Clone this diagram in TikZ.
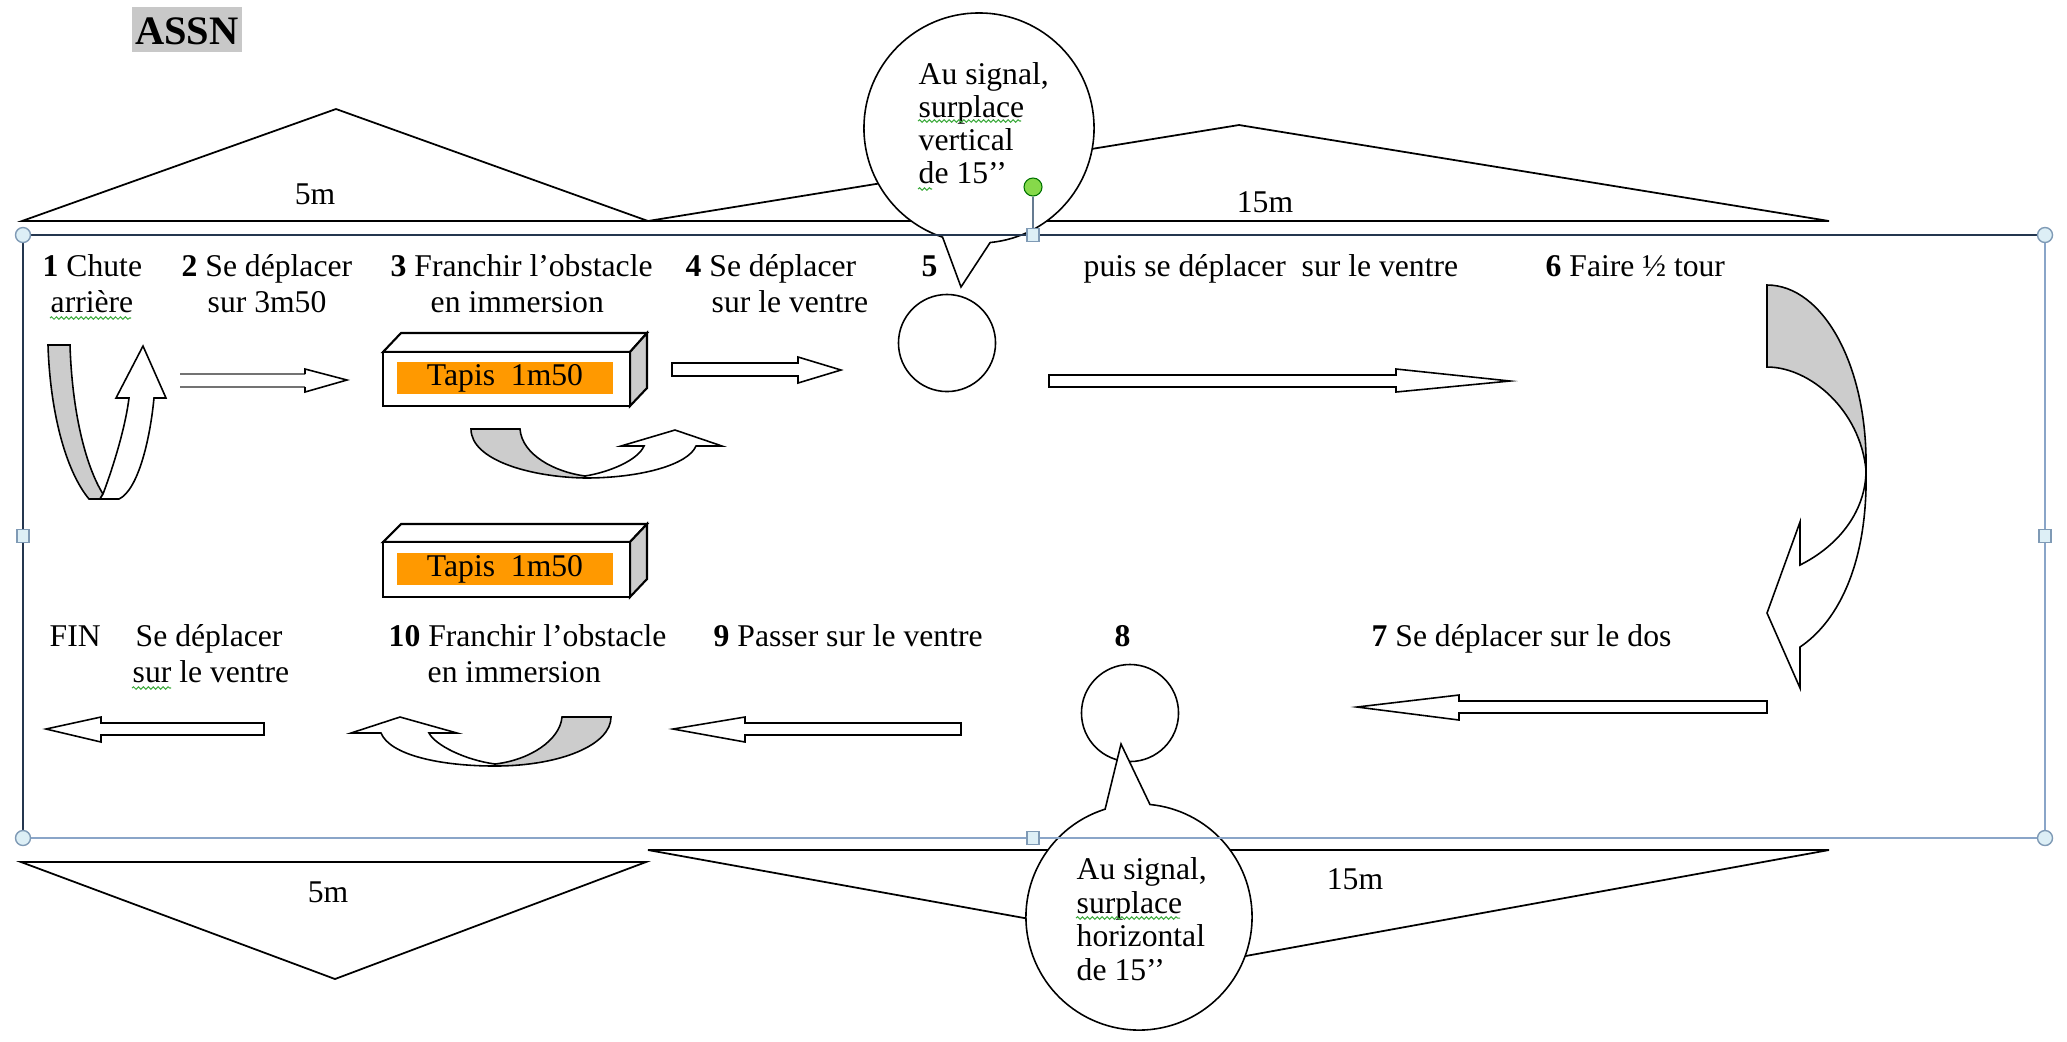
\documentclass[tikz,border=0pt]{standalone}
\usepackage{fontspec}
\setmainfont{Liberation Serif}
\usetikzlibrary{shapes.callouts,decorations.pathmorphing}
\definecolor{ribbon}{HTML}{CCCCCC}
\definecolor{tapis}{HTML}{FF9900}
\definecolor{framedark}{HTML}{24364F}
\definecolor{framelight}{HTML}{8AA5C8}
\definecolor{handlefill}{HTML}{DDEFF6}
\definecolor{handledraw}{HTML}{7F9AB5}
\definecolor{rotgreen}{HTML}{86D94A}
\definecolor{spell}{HTML}{3DAA3D}
\definecolor{assngray}{HTML}{C8C8C8}
\begin{document}
\begin{tikzpicture}[x=0.01cm,y=-0.01cm,
  mytxt/.style={anchor=base west,inner sep=0pt,font=\fontsize{9}{10.2}\selectfont},
  myctxt/.style={anchor=base,inner sep=0pt,font=\fontsize{9}{10.2}\selectfont},
  myoutl/.style={draw=black,line width=0.45pt,line join=miter},
  myblock/.style={myoutl,fill=white},
  myribbon/.style={myoutl,fill=ribbon},
  myfield/.style={draw=black,line width=0.5pt,line join=miter},
  mybubble/.style={ellipse callout,draw=black,fill=white,line width=0.45pt,inner sep=0pt,minimum width=2.3cm,minimum height=2.3cm},
  myring/.style={circle,draw=black,line width=0.45pt,minimum size=0.97cm,inner sep=0pt},
  mywavy/.style={decorate,decoration={snake,amplitude=0.35pt,segment length=1.4pt},draw=spell,line width=0.3pt},
  mycorner/.style={circle,draw=handledraw,fill=handlefill,line width=0.4pt,minimum size=0.15cm,inner sep=0pt},
  myside/.style={rectangle,draw=handledraw,fill=handlefill,line width=0.4pt,minimum width=0.12cm,minimum height=0.13cm,inner sep=0pt},
  mycube/.style={draw=black,line width=0.6pt,line join=miter},
  mytapis/.style={fill=tapis,minimum width=2.16cm,minimum height=0.32cm,inner sep=0pt,font=\fontsize{9}{10.2}\selectfont},
]
\useasboundingbox (0,0) rectangle (2067,1041);

% ---- title
\node[fill=assngray,minimum width=1.09cm,minimum height=0.45cm,inner sep=0pt] (assnbox) at (187,29) {};
\node[anchor=base,inner sep=0pt,font=\fontsize{11.5}{13}\selectfont\bfseries] (assn) at (187,44) {ASSN};

% ---- distance triangles
\draw[myfield] (22,221) -- (336,109) -- (648,221) -- (1239,125) -- (1829,221) -- cycle;
\draw[myfield] (21,862) -- (646,862) -- (335,979) -- cycle;
\draw[myfield] (648,850) -- (1829,850) -- (1240,957) -- cycle;
\node[myctxt] (d5top) at (315,204) {5m};
\node[myctxt] (d15top) at (1265,212) {15m};
\node[myctxt] (d5bot) at (328,902) {5m};
\node[myctxt] (d15bot) at (1355,889) {15m};

% ---- circles (stations 5 and 8)
\node[myring] (c5) at (947,343) {};
\node[myring] (c8) at (1130,713) {};

% ---- callouts
\node[mybubble,callout absolute pointer={(961,287)},callout pointer arc=24] (calltop) at (979,128) {};
\node[mybubble,minimum width=2.26cm,minimum height=2.26cm,callout absolute pointer={(1121,744)},callout pointer arc=23] (callbot) at (1139,917) {};
\node[mytxt] (ct1) at (918,84) {Au signal,};
\node[mytxt] (ct2) at (918,117) {surplace};
\node[mytxt] (ct3) at (918,150) {vertical};
\node[mytxt] (ct4) at (918,183) {de 15’’};
\node[mytxt] (cb1) at (1076,879) {Au signal,};
\node[mytxt] (cb2) at (1076,913) {surplace};
\node[mytxt] (cb3) at (1076,946) {horizontal};
\node[mytxt] (cb4) at (1076,980) {de 15’’};

% ---- row 1 labels
\node[mytxt] (l1a) at (42,276) {\textbf{1} Chute};
\node[mytxt] (l1b) at (50,312) {arrière};
\node[mytxt] (l2a) at (181,276) {\textbf{2} Se déplacer};
\node[mytxt] (l2b) at (207,312) {sur 3m50};
\node[mytxt] (l3a) at (390,276) {\textbf{3} Franchir l’obstacle};
\node[mytxt] (l3b) at (430,312) {en immersion};
\node[mytxt] (l4a) at (685,276) {\textbf{4} Se déplacer};
\node[mytxt] (l4b) at (711,312) {sur le ventre};
\node[mytxt] (l5) at (921,276) {\textbf{5}};
\node[mytxt] (l5b) at (1083,276) {puis se déplacer~ sur le ventre};
\node[mytxt] (l6) at (1545,276) {\textbf{6} Faire ½ tour};

% ---- row 2 labels
\node[mytxt] (lfin) at (49,646) {FIN};
\node[mytxt] (l11a) at (135,646) {Se déplacer};
\node[mytxt] (l11b) at (132,682) {sur le ventre};
\node[mytxt] (l10a) at (388,646) {\textbf{10} Franchir l’obstacle};
\node[mytxt] (l10b) at (427,682) {en immersion};
\node[mytxt] (l9) at (713,646) {\textbf{9} Passer sur le ventre};
\node[mytxt] (l8) at (1114,646) {\textbf{8}};
\node[mytxt] (l7) at (1371,646) {\textbf{7} Se déplacer sur le dos};

% ---- spelling underlines
\draw[mywavy] (50,318) -- (131,318);
\draw[mywavy] (918,121) -- (1021,121);
\draw[mywavy] (918,189) -- (932,189);
\draw[mywavy] (132,688) -- (171,688);
\draw[mywavy] (1076,918) -- (1180,918);

% ---- mats (3D boxes)
\draw[mycube,fill=white] (383,352) -- (401,333) -- (647,333) -- (630,352) -- cycle;
\draw[mycube,fill=ribbon] (630,352) -- (647,333) -- (647,388) -- (630,406) -- cycle;
\draw[mycube,fill=white] (383,352) rectangle (630,406);
\node[mytapis] (tapisA) at (505,378) {Tapis~ 1m50};
\draw[mycube,fill=white] (383,542) -- (401,524) -- (647,524) -- (630,542) -- cycle;
\draw[mycube,fill=ribbon] (630,542) -- (647,524) -- (647,579) -- (630,597) -- cycle;
\draw[mycube,fill=white] (383,542) rectangle (630,597);
\node[mytapis] (tapisB) at (505,569) {Tapis~ 1m50};

% ---- step 1 : back fall (U-turn ribbon)
\draw[myribbon] (48,345) -- (70,345) .. controls (72,410) and (85,465) .. (103,494) -- (100,499) -- (89,499) .. controls (65,470) and (50,410) .. (48,345) -- cycle;
\draw[myblock] (103,494) .. controls (112,470) and (125,430) .. (129,398) -- (116,398) -- (143,346) -- (166,398) -- (154,398) .. controls (150,440) and (138,490) .. (119,499) -- (100,499) -- cycle;

% ---- step 2 arrow (open shaft)
\fill[white] (180,374) rectangle (305,387);
\draw[black!55,line width=0.7pt] (180,374) -- (305,374);
\draw[black!55,line width=0.7pt] (180,387) -- (305,387);
\draw[myblock] (305,374) -- (305,369) -- (347,380) -- (305,392) -- (305,387);

% ---- step 3 curved arrow under the mat
\draw[myribbon] (471,429) -- (520,429) .. controls (522,455) and (555,472) .. (585,476) -- (585,478) .. controls (530,477) and (471,460) .. (471,429) -- cycle;
\draw[myblock] (585,476) .. controls (610,472) and (638,460) .. (644,446) -- (621,446) -- (675,430) -- (722,446) -- (696,446) .. controls (688,465) and (640,478) .. (585,478) -- cycle;

% ---- step 4 and 5 arrows
\draw[myblock] (672,363) -- (798,363) -- (798,357) -- (841,370) -- (798,383) -- (798,376) -- (672,376) -- cycle;
\draw[myblock] (1049,375) -- (1396,375) -- (1396,369) -- (1510,381) -- (1396,392) -- (1396,387) -- (1049,387) -- cycle;

% ---- step 6 half turn
\draw[myribbon] (1767,285) -- (1767,367) .. controls (1810,367) and (1860,410) .. (1866,470) .. controls (1868,366) and (1823,285) .. (1767,285) -- cycle;
\draw[myblock] (1866,470) .. controls (1868,560) and (1840,620) .. (1800,647) -- (1800,688) -- (1767,613) -- (1800,522) -- (1800,565) .. controls (1840,545) and (1866,510) .. (1866,470) -- cycle;

% ---- step 7, 9, final arrows
\draw[myblock] (1767,701) -- (1459,701) -- (1459,695) -- (1357,707) -- (1459,720) -- (1459,713) -- (1767,713) -- cycle;
\draw[myblock] (961,723) -- (745,723) -- (745,717) -- (673,729) -- (745,742) -- (745,735) -- (961,735) -- cycle;
\draw[myblock] (264,723) -- (101,723) -- (101,717) -- (46,729) -- (101,742) -- (101,735) -- (264,735) -- cycle;

% ---- step 10 curved arrow
\draw[myribbon] (611,717) -- (562,717) .. controls (560,740) and (530,760) .. (495,764) -- (495,766) .. controls (560,766) and (611,745) .. (611,717) -- cycle;
\draw[myblock] (495,764) .. controls (465,760) and (435,745) .. (429,733) -- (457,733) -- (400,717) -- (351,733) -- (381,733) .. controls (390,755) and (440,766) .. (495,766) -- cycle;

% ---- selection frame and handles
\draw[framelight,line width=0.45pt] (23,235) rectangle (2045,838);
\draw[framedark,line width=0.6pt] (23,838) -- (23,235);
\draw[framedark,line width=0.8pt] (23,235) -- (2045,235);
\node[mycorner] (hTL) at (23,235) {};
\node[mycorner] (hTR) at (2045,235) {};
\node[mycorner] (hBL) at (23,838) {};
\node[mycorner] (hBR) at (2045,838) {};
\node[myside] (hT) at (1033,235) {};
\node[myside] (hB) at (1033,838) {};
\node[myside] (hL) at (23,536) {};
\node[myside] (hR) at (2045,536) {};
\node[circle,fill=rotgreen,draw=green!45!black,line width=0.3pt,minimum size=0.18cm,inner sep=0pt] (rot) at (1033,187) {};
\draw[handledraw!80!black,line width=0.4pt] (rot) -- (hT);
\end{tikzpicture}
\end{document}
